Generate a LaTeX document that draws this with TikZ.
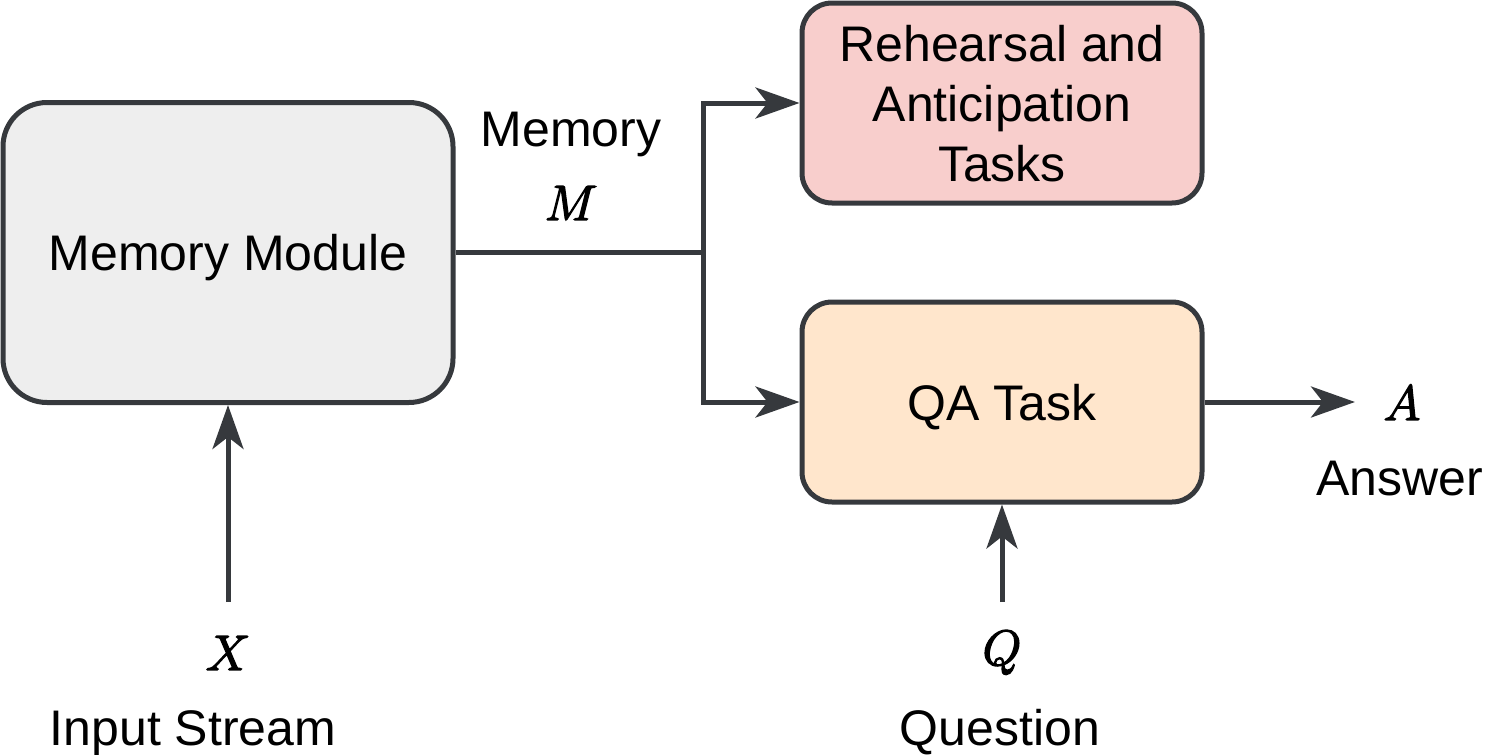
\documentclass[tikz,border=0pt]{standalone}
\usepackage{fontspec}
\setmainfont{Liberation Sans}
\usetikzlibrary{arrows.meta}
\definecolor{lnc}{HTML}{36393D}
\definecolor{gfill}{HTML}{EEEEEE}
\definecolor{pfill}{HTML}{F8CECC}
\definecolor{ofill}{HTML}{FFE6CC}
\newcommand{\fakebold}[1]{\special{pdf:literal direct 2 Tr 0.7 w}#1\special{pdf:literal direct 0 Tr}}
\begin{document}
\begin{tikzpicture}[x=0.5pt,y=-0.5pt,
  box/.style={draw=lnc, line width=2.5pt, rounded corners=15pt, minimum width=200pt, minimum height=100pt,
    align=center, font=\fontsize{25}{30}\selectfont, text depth=0pt, inner sep=0pt},
  lbl/.style={anchor=base, inner sep=0pt, font=\fontsize{25}{30}\selectfont},
  mth/.style={anchor=base, inner sep=0pt, font=\fontsize{30.5}{36}\selectfont},
  conn/.style={draw=lnc, line width=2.5pt},
  arr/.style={conn, -{Stealth[length=22pt,width=15.5pt,inset=6pt]}}]
\useasboundingbox (0,0) rectangle (1485,755);
\node[box, fill=gfill, minimum width=225pt, minimum height=150pt, rounded corners=22pt] (mm) at (228,252.5) {Memory Module};
\node[box, fill=pfill] (rt) at (1002,103) {Rehearsal and\\Anticipation\\Tasks};
\node[box, fill=ofill] (qa) at (1002,402) {QA Task};
\coordinate (j) at (703,252.5);
\draw[conn] (mm.east) -- (j);
\draw[arr] (j) |- (rt.west);
\draw[arr] (j) |- (qa.west);
\node[lbl] (meml) at (571,146) {Memory};
\node[mth] (mlab) at (571,220) {\fakebold{$M$}};
\coordinate (xin) at (228,602);
\draw[arr] (xin) -- (mm.south);
\node[mth] (xl) at (228,670) {\fakebold{$X$}};
\node[lbl] (xs) at (193,745) {Input Stream};
\coordinate (qin) at (1002,602);
\draw[arr] (qin) -- (qa.south);
\node[mth] (ql) at (1002,665) {\fakebold{$Q$}};
\node[lbl] (qs) at (1000,745) {Question};
\coordinate (aout) at (1355,402);
\draw[arr] (qa.east) -- (aout);
\node[mth] (al) at (1402,420) {\fakebold{$A$}};
\node[lbl] (as) at (1400,495) {Answer};
\end{tikzpicture}
\end{document}
